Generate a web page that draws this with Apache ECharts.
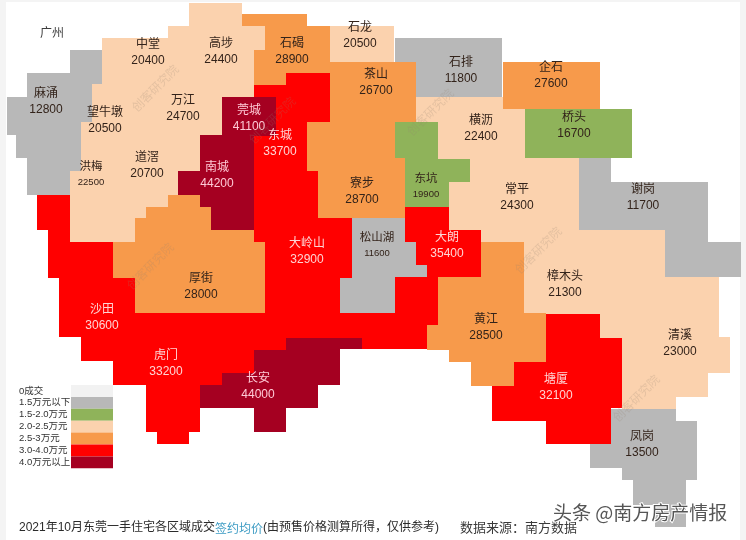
<!DOCTYPE html>
<html>
<head>
<meta charset="utf-8">
<style>
html,body{margin:0;padding:0;background:#fff}
#main{width:746px;height:540px}
</style>
<script src="https://cdn.jsdelivr.net/npm/echarts@6/dist/echarts.min.js"></script>
</head>
<body>
<div id="main"></div>
<script>
// 各镇街成交签约均价（元/㎡）
const districts = ["麻涌","中堂","高埗","望牛墩","万江","洪梅","道滘","石碣","茶山","寮步","东城","大岭山","沙田","虎门","大朗","莞城","南城","长安","厚街","石龙","石排","企石","桥头","东坑","横沥","常平","樟木头","清溪","谢岗","凤岗","松山湖","黄江","塘厦"];
const prices = [12800,20400,24400,20500,24700,22500,20700,28900,26700,28700,33700,32900,30600,33200,35400,41100,44200,44000,28000,20500,11800,27600,16700,19900,22400,24300,21300,23000,11700,13500,11600,28500,32100];
const smallLabels = ["洪梅","东坑","松山湖"];

const legendLabels = ["0成交","1.5万元以下","1.5-2.0万元","2.0-2.5万元","2.5-3万元","3.0-4.0万元","4.0万元以上"];
const legendMin = [0,1,15000,20000,25000,30000,40000];
const legendMax = [0,15000,20000,25000,30000,40000,100000];
const legendColors = ["#f2f2f2","#b8b8b8","#8fb35a","#fbd2ae","#f79a4b","#ff0000","#a50021"];

// 地块轮廓（画面像素坐标）和标签中心
const outlines = {
  "麻涌":[[70,50],[102,50],[102,85],[92,85],[92,122],[81,122],[81,171],[70,171],[70,195],[27,195],[27,158],[16,158],[16,135],[7,135],[7,97],[27,97],[27,73],[70,73]],
  "中堂":[[102,38],[168,38],[168,26],[190,26],[190,85],[102,85]],
  "高埗":[[189,3],[242,3],[242,26],[265,26],[265,50],[254,50],[254,85],[189,85]],
  "望牛墩":[[92,84],[140,84],[140,145],[81,145],[81,122],[92,122]],
  "万江":[[139,84],[254,84],[254,97],[222,97],[222,135],[200,135],[200,145],[139,145]],
  "洪梅":[[70,171],[81,171],[81,144],[110,144],[110,242],[70,242]],
  "道滘":[[109,144],[200,144],[200,171],[178,171],[178,195],[168,195],[168,207],[146,207],[146,218],[135,218],[135,242],[109,242]],
  "石碣":[[242,14],[307,14],[307,26],[330,26],[330,73],[286,73],[286,85],[254,85],[254,50],[265,50],[265,26],[242,26]],
  "茶山":[[329,62],[416,62],[416,122],[395,122],[395,136],[307,136],[307,122],[330,122],[330,73],[329,73]],
  "寮步":[[307,135],[395,135],[395,158],[405,158],[405,218],[318,218],[318,171],[307,171]],
  "东城":[[254,85],[286,85],[286,73],[330,73],[330,122],[307,122],[307,171],[318,171],[318,200],[254,200]],
  "大岭山":[[254,199],[318,199],[318,218],[352,218],[352,278],[340,278],[340,313],[396,313],[396,349],[362,349],[362,338],[286,338],[286,313],[265,313],[265,242],[254,242]],
  "沙田":[[37,195],[70,195],[70,242],[113,242],[113,278],[135,278],[135,361],[81,361],[81,337],[59,337],[59,278],[48,278],[48,230],[37,230]],
  "虎门":[[134,312],[287,312],[287,350],[254,350],[254,373],[222,373],[222,385],[200,385],[200,432],[189,432],[189,444],[157,444],[157,432],[146,432],[146,385],[113,385],[113,360],[134,360]],
  "大朗":[[405,207],[449,207],[449,230],[481,230],[481,277],[438,277],[438,325],[427,325],[427,349],[395,349],[395,277],[427,277],[427,265],[416,265],[416,242],[405,242]],
  "莞城":[[222,97],[276,97],[276,136],[222,136]],
  "南城":[[200,135],[276,135],[254,135],[254,230],[211,230],[211,207],[200,207],[200,195],[178,195],[178,171],[200,171]],
  "长安":[[286,338],[362,338],[362,349],[340,349],[340,385],[318,385],[318,408],[286,408],[286,432],[254,432],[254,408],[200,408],[200,385],[222,385],[222,373],[254,373],[254,350],[286,350]],
  "厚街":[[113,242],[135,242],[135,218],[146,218],[146,207],[168,207],[168,195],[200,195],[200,207],[211,207],[211,230],[254,230],[254,242],[265,242],[265,313],[135,313],[135,278],[113,278]],
  "石龙":[[330,26],[394,26],[394,62],[330,62]],
  "石排":[[395,38],[502,38],[502,97],[416,97],[416,62],[395,62]],
  "企石":[[503,62],[600,62],[600,109],[503,109]],
  "桥头":[[525,109],[632,109],[632,158],[525,158]],
  "东坑":[[395,122],[438,122],[438,158],[470,158],[470,182],[449,182],[449,207],[405,207],[405,158],[395,158]],
  "横沥":[[416,97],[503,97],[503,109],[525,109],[525,159],[438,159],[438,122],[416,122]],
  "常平":[[449,182],[470,182],[470,158],[579,158],[579,231],[524,231],[524,243],[481,243],[481,230],[449,230]],
  "樟木头":[[524,230],[665,230],[665,277],[650,277],[650,339],[600,339],[600,314],[524,314]],
  "清溪":[[649,277],[719,277],[719,337],[730,337],[730,373],[708,373],[708,397],[676,397],[676,409],[622,409],[622,338],[649,338]],
  "谢岗":[[579,158],[611,158],[611,182],[708,182],[708,242],[741,242],[741,277],[665,277],[665,230],[579,230]],
  "凤岗":[[611,409],[676,409],[676,421],[697,421],[697,480],[686,480],[686,527],[655,527],[655,505],[633,505],[633,480],[622,480],[622,468],[590,468],[590,444],[611,444]],
  "松山湖":[[352,218],[405,218],[405,242],[416,242],[416,265],[427,265],[427,277],[395,277],[395,313],[340,313],[340,278],[352,278]],
  "黄江":[[481,242],[524,242],[524,313],[546,313],[546,362],[514,362],[514,386],[471,386],[471,362],[449,362],[449,350],[427,350],[427,325],[438,325],[438,277],[481,277]],
  "塘厦":[[546,314],[600,314],[600,338],[622,338],[622,408],[611,408],[611,444],[546,444],[546,421],[492,421],[492,386],[514,386],[514,362],[546,362]]
};
const labelCenters = {
  "麻涌":[46,102],"中堂":[148,53],"高埗":[221,52],"望牛墩":[105,121],"万江":[183,109],"洪梅":[91,174],"道滘":[147,166],
  "石碣":[292,52],"茶山":[376,83],"寮步":[362,192],"东城":[280,144],"大岭山":[307,252],"沙田":[102,318],"虎门":[166,364],
  "大朗":[447,246],"莞城":[249,119],"南城":[217,176],"长安":[258,387],"厚街":[201,287],"石龙":[360,36],"石排":[461,71],
  "企石":[551,76],"桥头":[574,126],"东坑":[426,186],"横沥":[481,129],"常平":[517,198],"樟木头":[565,285],"清溪":[680,344],
  "谢岗":[643,198],"凤岗":[642,445],"松山湖":[377,245],"黄江":[486,328],"塘厦":[556,388]
};

const features = districts.map(name => ({
  type: "Feature",
  properties: {name: name, cp: labelCenters[name]},
  geometry: {type: "Polygon", coordinates: [outlines[name].concat([outlines[name][0]])]}
}));
echarts.registerMap("dongguan", {type: "FeatureCollection", features: features});

const fontFamily = '"Liberation Sans","Noto Sans CJK SC",sans-serif';

function labelColor(v){
  if(v >= 40000) return "#ffc9d6";
  if(v >= 30000) return "#ffd4d4";
  return "#33231a";
}

const watermarks = [[155,88],[430,112],[150,266],[538,250],[636,398],[272,120]].map(p => ({
  type: "text", x: p[0], y: p[1], rotation: Math.PI / 4, z: 10,
  style: {text: "创客研究院", fill: "rgba(150,130,115,0.22)", font: '12px "Noto Sans CJK SC"', align: "center", verticalAlign: "middle"}
}));

const chart = echarts.init(document.getElementById("main"));
chart.setOption({
  backgroundColor: "#fff",
  animation: false,
  visualMap: {
    type: "piecewise",
    seriesIndex: 0,
    left: 19,
    top: 385,
    padding: 0,
    inverse: true,
    itemSymbol: "rect",
    itemWidth: 42,
    itemHeight: 11.9,
    itemGap: 0,
    textGap: -94,
    selectedMode: false,
    hoverLink: false,
    textStyle: {align: "left", fontSize: 9.5, color: "#333", fontFamily: fontFamily},
    pieces: legendLabels.map((label, i) => ({min: legendMin[i], max: legendMax[i], label: label, color: legendColors[i], symbol: "rect"}))
  },
  series: [{
    type: "map",
    map: "dongguan",
    projection: {project: p => p, unproject: p => p},
    boundingCoords: [[0,0],[746,540]],
    left: 0, top: 0, right: 0, bottom: 0,
    roam: false,
    silent: true,
    emphasis: {disabled: true},
    select: {disabled: true},
    itemStyle: {borderWidth: 0},
    label: {
      show: true,
      fontFamily: fontFamily,
      formatter: p => {
        const small = smallLabels.includes(p.name);
        return `{${small ? "ns" : "n"}|${p.name}}\n{${small ? "vs" : "v"}|${p.value}}`;
      },
      rich: {
        n: {fontSize: 12, lineHeight: 16, fontFamily: fontFamily},
        v: {fontSize: 12, lineHeight: 16, fontFamily: fontFamily},
        ns: {fontSize: 11.5, lineHeight: 16, fontFamily: fontFamily},
        vs: {fontSize: 9.5, lineHeight: 15, fontFamily: fontFamily}
      }
    },
    data: districts.map((name, i) => ({name: name, value: prices[i], label: {color: labelColor(prices[i])}}))
  }],
  graphic: [
    {type: "rect", shape: {x: 0, y: 0, width: 6, height: 540}, style: {fill: "#f4f4f4"}, z: -1},
    {type: "rect", shape: {x: 0, y: 0, width: 746, height: 2}, style: {fill: "#f4f4f4"}, z: -1},
    {type: "rect", shape: {x: 740, y: 0, width: 6, height: 540}, style: {fill: "#f4f4f4"}, z: -1},
    {type: "text", x: 40, y: 26, z: 10, style: {text: "广州", fill: "#3c3c3c", font: '12px "Noto Sans CJK SC"'}},
    {type: "text", x: 19, y: 522, z: 10, style: {
      text: "2021年10月东莞一手住宅各区域成交{b|签约均价}(由预售价格测算所得，仅供参考)",
      fill: "#2b2b2b", font: '12px "Liberation Sans","Noto Sans CJK SC"',
      rich: {b: {fill: "#3d9cc4", font: '12px "Noto Sans CJK SC"'}}
    }},
    {type: "text", x: 460, y: 521, z: 10, style: {text: "数据来源：南方数据", fill: "#3a3a3a", font: '13px "Noto Sans CJK SC"'}},
    {type: "text", x: 553, y: 503, z: 11, style: {text: "头条 @南方房产情报", fill: "#555", stroke: "#fff", lineWidth: 2, font: '19px "Noto Sans CJK SC"'}}
  ].concat(watermarks)
});
</script>
</body>
</html>
